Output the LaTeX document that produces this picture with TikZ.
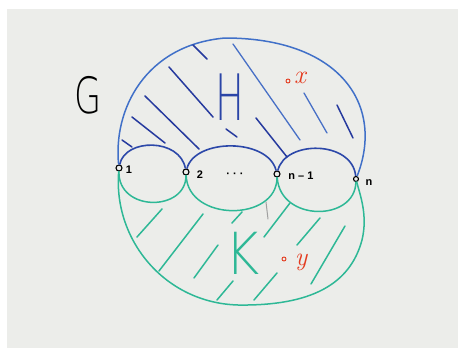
\documentclass[tikz,border=0pt]{standalone}
\usepackage{fontspec}
\newfontfamily\hand{Liberation Sans}
\newfontfamily\thin{DejaVu Sans ExtraLight}
\definecolor{board}{RGB}{236,237,234}
\definecolor{hblue}{RGB}{64,112,200}
\definecolor{hdark}{RGB}{38,58,158}
\definecolor{hmid}{RGB}{72,112,198}
\definecolor{kteal}{RGB}{46,184,150}
\definecolor{mred}{RGB}{228,58,30}
\definecolor{stray}{RGB}{160,160,160}
\begin{document}
\begin{tikzpicture}[x=1pt,y=-1pt,
  vtx/.style={circle, draw=black, line width=1.1pt, fill=board, inner sep=0pt, minimum size=6pt},
  ptx/.style={circle, draw=mred, line width=0.9pt, inner sep=0pt, minimum size=4pt},
  outerblue/.style={draw=hblue, line width=1.5pt},
  innerblue/.style={draw=hdark!75!hblue, line width=1.6pt},
  hatchb/.style={draw=hdark, line width=1.5pt, line cap=round},
  hatchl/.style={draw=hmid, line width=1.3pt, line cap=round},
  teal/.style={draw=kteal, line width=1.5pt, line cap=round},
  vlbl/.style={font=\hand\bfseries\fontsize{11}{11}\selectfont, inner sep=0pt},
  big/.style={font=\thin\fontsize{#1}{#1}\selectfont, inner sep=0pt},
  red/.style={text=mred, font=\fontsize{26}{26}\selectfont\itshape, inner sep=0pt}
]
\fill[white] (0,0) rectangle (458,348);
\fill[board] (7,9) rectangle (458,348);
\useasboundingbox (0,0) rectangle (458,348);

% vertices
\node[vtx] (v1) at (119,168) {};
\node[vtx] (v2) at (186,172) {};
\node[vtx] (vm) at (277,174) {};
\node[vtx, minimum size=5pt] (vn) at (356,179) {};
\node[vlbl] (l1) at (129,170) {1};
\node[vlbl] (l2) at (200,175) {2};
\node[vlbl] (ld) at (235,175) {· · ·};
\node[vlbl] (lm) at (301,176) {n – 1};
\node[vlbl] (ln) at (369,183) {n};

% outer curve of H
\draw[outerblue] (v1) .. controls (113,110) and (145,45) .. (225,38)
  .. controls (340,38) and (385,105) .. (vn);
% inner arcs of H
\draw[innerblue] (v1) .. controls (125,138) and (180,138) .. (v2);
\draw[innerblue] (v2) .. controls (195,138) and (268,138) .. (vm);
\draw[innerblue] (vm) .. controls (285,140) and (352,140) .. (vn);

% outer curve of K
\draw[teal] (v1) .. controls (113,240) and (165,303) .. (238,305)
  .. controls (310,306) and (350,285) .. (362,240)
  .. controls (368,215) and (360,195) .. (vn);
% inner arcs of K
\draw[teal] (v1) .. controls (118,212) and (186,212) .. (v2);
\draw[teal] (v2) .. controls (188,222) and (277,222) .. (vm);
\draw[teal] (vm) .. controls (280,222) and (355,222) .. (vn);

% hatching of H
\draw[hatchb] (193,45) -- (207,59);
\draw[hatchl] (233,44) -- (300,140);
\draw[hatchb] (169,67) -- (213,117);
\draw[hatchb] (145,96) -- (199,149);
\draw[hatchb] (132,117) -- (165,143);
\draw[hatchb] (122,140) -- (132,147);
\draw[hatchb] (226,129) -- (237,137);
\draw[hatchb] (256,118) -- (287,157);
\draw[hatchl] (304,93) -- (327,133);
\draw[hatchb] (337,105) -- (353,138);

% hatching of K
\draw[teal] (162,209) -- (137,237);
\draw[teal] (203,214) -- (159,271);
\draw[teal] (218,245) -- (194,278);
\draw[teal] (242,212) -- (232,223);
\draw[teal] (233,281) -- (217,300);
\draw[teal] (290,203) -- (264,237);
\draw[teal] (320,218) -- (297,245);
\draw[teal] (345,226) -- (311,284);
\draw[teal] (277,273) -- (254,300);
\draw[draw=stray, line width=1pt, line cap=round] (266,202) -- (268,219);

% letters
\node[big=50, xscale=0.7, text=black] (G) at (88,95) {G};
\node[big=64, xscale=0.6, text=hdark!80!hblue] (H) at (230,97) {H};
\node[big=58, xscale=0.9, text=kteal] (K) at (243,253) {K};

% points x and y
\node[ptx] (xo) at (288,81) {};
\node[red] (xl) at (300,78) {x};
\node[ptx] (yo) at (284,259) {};
\node[red] (yl) at (301,262) {y};
\end{tikzpicture}
\end{document}
